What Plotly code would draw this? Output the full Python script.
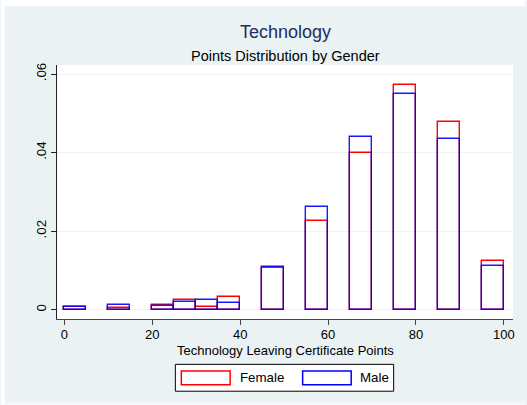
import plotly.graph_objects as go

# ---- data (density per 5-point bin) ----
bin_starts = [0, 10, 20, 25, 30, 35, 45, 55, 65, 75, 85, 95]
bin_width = 5
female = [0.0008, 0.0004, 0.0012, 0.0026, 0.0006, 0.0032, 0.0107, 0.0226, 0.0400, 0.0573, 0.0478, 0.0125]
male = [0.0006, 0.0011, 0.0009, 0.0020, 0.0024, 0.0018, 0.0110, 0.0262, 0.0440, 0.0548, 0.0435, 0.0111]
x_ticks = [0, 20, 40, 60, 80, 100]
y_ticks = [0, 0.02, 0.04, 0.06]
y_tick_labels = ["0", ".02", ".04", ".06"]
series_names = ["Female", "Male"]

W, H = 527, 405
L, R, T, B = 56.5, 515.0, 65.0, 319.3
PW, PH = R - L, B - T


def px(xp):
    return (xp - L) / PW


def py(yp):
    return (B - yp) / PH


centers = [s + bin_width / 2 for s in bin_starts]

fig = go.Figure()
fig.add_trace(go.Bar(x=centers, y=female, width=bin_width, name=series_names[0],
                     marker=dict(color="rgba(0,0,0,0)", line=dict(color="#ff0000", width=1.4))))
fig.add_trace(go.Bar(x=centers, y=male, width=bin_width, name=series_names[1],
                     marker=dict(color="rgba(0,0,0,0)", line=dict(color="rgba(0,0,255,0.9)", width=1.4))))

bg = "#eaf2f3"
shapes = [
    # white outer margins (left / top / bottom)
    dict(type="rect", xref="paper", yref="paper", x0=px(0), x1=px(4), y0=py(405), y1=py(0),
         fillcolor="white", line=dict(width=0), layer="above"),
    dict(type="rect", xref="paper", yref="paper", x0=px(0), x1=px(527), y0=py(6), y1=py(0),
         fillcolor="white", line=dict(width=0), layer="above"),
    dict(type="rect", xref="paper", yref="paper", x0=px(0), x1=px(527), y0=py(405), y1=py(404),
         fillcolor="white", line=dict(width=0), layer="above"),
    # legend box
    dict(type="rect", xref="paper", yref="paper", x0=px(175.5), x1=px(395), y0=py(391.6), y1=py(364.7),
         fillcolor="white", line=dict(color="black", width=1)),
    dict(type="rect", xref="paper", yref="paper", x0=px(181.5), x1=px(230.6), y0=py(385.2), y1=py(371.4),
         fillcolor="rgba(0,0,0,0)", line=dict(color="#ff0000", width=1.5)),
    dict(type="rect", xref="paper", yref="paper", x0=px(303.5), x1=px(352.3), y0=py(385.2), y1=py(371.4),
         fillcolor="rgba(0,0,0,0)", line=dict(color="#0000ff", width=1.5)),
]

font = "Liberation Sans, Arial, sans-serif"
annotations = [
    dict(text="Technology", xref="paper", yref="paper", x=px(285.8), y=py(32), xanchor="center",
         yanchor="middle", showarrow=False, font=dict(family=font, size=18, color="#1e2f5e")),
    dict(text="Points Distribution by Gender", xref="paper", yref="paper", x=px(285.8), y=py(56),
         xanchor="center", yanchor="middle", showarrow=False, font=dict(family=font, size=14.5, color="black")),
    dict(text="Technology Leaving Certificate Points", xref="paper", yref="paper", x=px(285.8), y=py(351),
         xanchor="center", yanchor="middle", showarrow=False, font=dict(family=font, size=13, color="black")),
    dict(text=series_names[0], xref="paper", yref="paper", x=px(238), y=py(378), xanchor="left",
         yanchor="middle", showarrow=False, font=dict(family=font, size=13.3, color="black")),
    dict(text=series_names[1], xref="paper", yref="paper", x=px(359.5), y=py(378), xanchor="left",
         yanchor="middle", showarrow=False, font=dict(family=font, size=13.3, color="black")),
]

fig.update_layout(
    width=W, height=H,
    margin=dict(l=L, r=W - R, t=T, b=H - B, pad=0),
    paper_bgcolor=bg, plot_bgcolor="white",
    barmode="overlay", bargap=0, showlegend=False,
    shapes=shapes, annotations=annotations,
    font=dict(family=font, size=13.3, color="black"),
)
fig.update_xaxes(range=[-1.7, 102.1], tickvals=x_ticks, ticks="outside", ticklen=5, tickcolor="#444",
                 showline=True, linecolor="#444", linewidth=1, showgrid=False, zeroline=False,
                 ticklabelstandoff=-2,
                 tickfont=dict(family=font, size=13, color="black"))
fig.update_yaxes(range=[-0.00236, 0.0623], tickvals=y_ticks, ticktext=y_tick_labels, tickangle=-90,
                 ticks="outside", ticklen=5, tickcolor="#222", showline=True, linecolor="#222", linewidth=1,
                 showgrid=True, gridcolor=bg, gridwidth=1, zeroline=False,
                 tickfont=dict(family=font, size=13.3, color="black"))

fig.write_html("out.html", config={"displayModeBar": False},
               post_script="document.body.style.margin='0';document.body.style.overflow='hidden';")
